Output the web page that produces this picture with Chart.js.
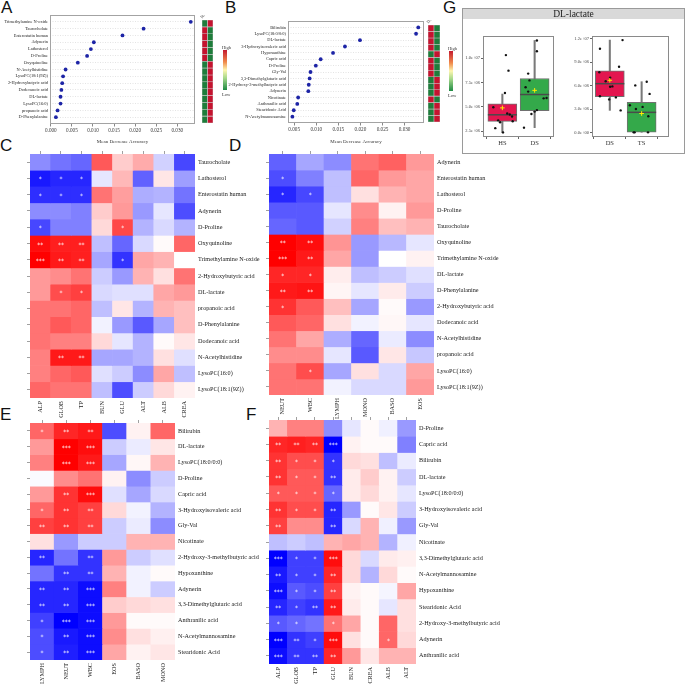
<!DOCTYPE html>
<html>
<head>
<meta charset="UTF-8" />
<title>Serum metabolites and clinical indices</title>
<script src="https://cdn.jsdelivr.net/npm/chart.js@4.4.1/dist/chart.umd.min.js"></script>
<style type="text/css">
	body { margin: 0; background: #fff; }
	#page { position: relative; width: 685px; height: 684px; overflow: hidden; background: #fff; }
	canvas { position: absolute; }
	.tag { position: absolute; font-family: "Liberation Sans", Arial, sans-serif; font-size: 17px; line-height: 17px; color: #111; }
	.scale { position: absolute; width: 4px; height: 40px; background: linear-gradient(to bottom, #c41a30, #f08a4b 30%, #fdf6b0 50%, #a6d88a 70%, #1f8a44); }
	.stxt { position: absolute; font-family: "Liberation Serif", serif; font-size: 4.5px; line-height: 5px; color: #333; }
	#gbox { position: absolute; left: 462px; top: 8px; width: 223px; height: 146px; box-sizing: border-box; border: 1px solid #9a9a9a; }
	#gstrip { position: absolute; left: 463px; top: 9px; width: 221px; height: 10px; background: #d9d9d9; font-family: "Liberation Serif", serif; font-size: 9.5px; line-height: 10px; text-align: center; color: #222; }
</style>
</head>
<body>
<div id="page">
	<div class="tag" style="left:1px; top:-1px;">A</div>
	<div class="tag" style="left:225px; top:-1px;">B</div>
	<div class="tag" style="left:443px; top:-1px;">G</div>
	<div class="tag" style="left:0px; top:137px;">C</div>
	<div class="tag" style="left:229px; top:137px;">D</div>
	<div class="tag" style="left:0px; top:406px;">E</div>
	<div class="tag" style="left:246px; top:406px;">F</div>

	<canvas id="dotA" width="200" height="146" style="left:0px; top:0px;"></canvas>
	<canvas id="stripA" width="18" height="126" style="left:199px; top:0px;"></canvas>
	<div class="stxt" style="left:222px; top:45px;">High</div>
	<div class="scale" style="left:223px; top:50px;"></div>
	<div class="stxt" style="left:222px; top:92px;">Low</div>

	<canvas id="dotB" width="200" height="146" style="left:228px; top:0px;"></canvas>
	<canvas id="stripB" width="20" height="126" style="left:425px; top:0px;"></canvas>
	<div class="stxt" style="left:448px; top:46px;">High</div>
	<div class="scale" style="left:449px; top:51px;"></div>
	<div class="stxt" style="left:448px; top:93px;">Low</div>

	<div id="gbox"></div>
	<div id="gstrip">DL-lactate</div>
	<canvas id="boxL" width="108" height="133" style="left:462px; top:20px;"></canvas>
	<canvas id="boxR" width="115" height="133" style="left:570px; top:20px;"></canvas>

	<canvas id="heatC" width="265" height="285" style="left:0px; top:140px;"></canvas>
	<canvas id="heatD" width="445" height="285" style="left:240px; top:140px;"></canvas>
	<canvas id="heatE" width="265" height="274" style="left:0px; top:410px;"></canvas>
	<canvas id="heatF" width="445" height="279" style="left:240px; top:405px;"></canvas>
</div>

<script>
// ---------- A: random forest, HS vs DS
const aNames = ['Trimethylamine N-oxide', 'Taurocholate', 'Enterostatin human', 'Adynerin', 'Lathosterol', 'D-Proline', 'Oxyquinoline', 'N-Acetylhistidine', 'LysoPC(18:1(9Z))', '2-Hydroxybutyric acid', 'Dodecanoic acid', 'DL-lactate', 'LysoPC(16:0)', 'propanoic acid', 'D-Phenylalanine'];
const aMDA = [0.0332, 0.0220, 0.0170, 0.0102, 0.0095, 0.0086, 0.0064, 0.0035, 0.0029, 0.0027, 0.0025, 0.0023, 0.0023, 0.0016, 0.0012];
const aTicks = [0, 0.005, 0.010, 0.015, 0.020, 0.025, 0.030];
const aGroups = ['HS', 'DS'];
const aHS = [0, 1, 1, 1, 1, 1, 0, 0, 0, 0, 0, 0, 0, 0, 0]; // 1 = high, 0 = low
const aDS = [1, 0, 0, 0, 0, 0, 1, 1, 1, 1, 1, 1, 1, 1, 1];

// ---------- B: random forest, DS vs TS
const bNames = ['Bilirubin', 'LysoPC(18:0/0:0)', 'DL-lactate', '3-Hydroxyisovaleric acid', 'Hypoxanthine', 'Capric acid', 'D-Proline', 'Gly-Val', '3,3-Dimethylglutaric acid', '2-Hydroxy-3-methylbutyric acid', 'Adynerin', 'Nicotinate', 'Anthranilic acid', 'Stearidonic Acid', 'N-Acetylmannosamine'];
const bMDA = [0.0331, 0.0326, 0.0199, 0.0165, 0.0138, 0.0110, 0.0099, 0.0087, 0.0085, 0.0083, 0.0082, 0.0059, 0.0057, 0.0049, 0.0046];
const bTicks = [0.005, 0.010, 0.015, 0.020, 0.025, 0.030];
const bGroups = ['DS', 'TS'];
const bDS = [1, 1, 1, 1, 0, 1, 1, 1, 0, 0, 0, 1, 0, 0, 0];
const bTS = [0, 0, 0, 0, 1, 0, 0, 0, 1, 1, 1, 0, 1, 1, 1];

// ---------- C: HS/DS metabolites vs biochemistry
const cRows = ['Taurocholate', 'Lathosterol', 'Enterostatin human', 'Adynerin', 'D-Proline', 'Oxyquinoline', 'Trimethylamine N-oxide', '2-Hydroxybutyric acid', 'DL-lactate', 'propanoic acid', 'D-Phenylalanine', 'Dodecanoic acid', 'N-Acetylhistidine', 'LysoPC(16:0)', 'LysoPC(18:1(9Z))'];
const cCols = ['ALP', 'GLOB', 'TP', 'BUN', 'GLU', 'ALT', 'ALB', 'CREA'];
const cCorr = [
	[-0.45, -0.55, -0.6, 0.65, 0.2, 0.33, -0.18, -0.72],
	[-0.9, -0.85, -0.85, -0.1, 0.28, -0.62, 0.1, -0.38],
	[-0.82, -0.82, -0.82, 0.55, 0.38, -0.32, -0.3, -0.55],
	[-0.45, -0.45, -0.5, 0.2, 0.4, -0.4, -0.1, -0.7],
	[-0.72, -0.5, -0.5, 0.15, 0.72, -0.3, -0.15, -0.3],
	[0.95, 0.88, 0.88, -0.25, -0.6, -0.15, 0.02, 0.6],
	[1.0, 0.9, 0.88, -0.35, -0.8, 0.35, 0.3, 0.0],
	[0.4, 0.45, 0.55, -0.2, -0.4, 0.3, 0.12, 0.55],
	[0.4, 0.7, 0.75, -0.15, -0.12, -0.12, 0.35, 0.4],
	[0.55, 0.55, 0.6, -0.25, 0.1, -0.3, 0.3, 0.25],
	[0.55, 0.65, 0.6, -0.05, -0.4, -0.65, -0.35, 0.25],
	[0.55, 0.5, 0.5, 0.15, -0.1, -0.3, 0.02, 0.1],
	[0.5, 0.9, 0.9, -0.35, -0.35, -0.3, 0.12, -0.12],
	[0.5, 0.6, 0.65, -0.12, -0.2, -0.45, 0.35, -0.25],
	[0.6, 0.55, 0.55, -0.25, -0.7, -0.2, 0.15, 0.05]
];
const cSig = [
	[0, 0, 0, 0, 0, 0, 0, 0],
	[1, 1, 1, 0, 0, 0, 0, 0],
	[1, 1, 1, 0, 0, 0, 0, 0],
	[0, 0, 0, 0, 0, 0, 0, 0],
	[1, 0, 0, 0, 1, 0, 0, 0],
	[2, 2, 2, 0, 0, 0, 0, 0],
	[3, 2, 2, 0, 1, 0, 0, 0],
	[0, 0, 0, 0, 0, 0, 0, 0],
	[0, 1, 1, 0, 0, 0, 0, 0],
	[0, 0, 0, 0, 0, 0, 0, 0],
	[0, 0, 0, 0, 0, 0, 0, 0],
	[0, 0, 0, 0, 0, 0, 0, 0],
	[0, 2, 2, 0, 0, 0, 0, 0],
	[0, 0, 0, 0, 0, 0, 0, 0],
	[0, 0, 0, 0, 0, 0, 0, 0]
];

// ---------- D: HS/DS metabolites vs blood counts
const dRows = ['Adynerin', 'Enterostatin human', 'Lathosterol', 'D-Proline', 'Taurocholate', 'Oxyquinoline', 'Trimethylamine N-oxide', 'DL-lactate', 'D-Phenylalanine', '2-Hydroxybutyric acid', 'Dodecanoic acid', 'N-Acetylhistidine', 'propanoic acid', 'LysoPC(16:0)', 'LysoPC(18:1(9Z))'];
const dCols = ['NEUT', 'WBC', 'LYMPH', 'MONO', 'BASO', 'EOS'];
const dCorr = [
	[-0.62, -0.35, -0.45, 0.55, 0.62, 0.4],
	[-0.7, -0.5, -0.25, 0.6, 0.4, 0.35],
	[-0.85, -0.72, -0.25, 0.12, 0.3, 0.35],
	[-0.65, -0.65, -0.1, 0.45, 0.05, 0.4],
	[-0.6, -0.65, -0.18, 0.5, 0.25, 0.3],
	[1.0, 0.95, 0.42, -0.4, -0.28, -0.1],
	[1.0, 0.9, 0.35, -0.4, 0.0, 0.05],
	[0.85, 0.85, 0.07, -0.25, -0.2, -0.12],
	[0.9, 0.92, 0.04, -0.1, 0.08, -0.2],
	[0.8, 0.65, 0.25, -0.35, 0.02, -0.4],
	[0.65, 0.6, 0.12, -0.05, 0.03, -0.1],
	[0.55, 0.35, -0.32, -0.6, -0.08, -0.45],
	[0.45, 0.45, -0.1, -0.65, 0.1, -0.22],
	[0.55, 0.7, -0.35, 0.12, -0.15, 0.35],
	[0.55, 0.55, -0.05, -0.15, -0.15, 0.4]
];
const dSig = [
	[0, 0, 0, 0, 0, 0],
	[1, 0, 0, 0, 0, 0],
	[1, 1, 0, 0, 0, 0],
	[0, 0, 0, 0, 0, 0],
	[0, 0, 0, 0, 0, 0],
	[2, 2, 0, 0, 0, 0],
	[3, 2, 0, 0, 0, 0],
	[1, 1, 0, 0, 0, 0],
	[2, 2, 0, 0, 0, 0],
	[1, 0, 0, 0, 0, 0],
	[0, 0, 0, 0, 0, 0],
	[0, 0, 0, 0, 0, 0],
	[0, 0, 0, 0, 0, 0],
	[0, 1, 0, 0, 0, 0],
	[0, 0, 0, 0, 0, 0]
];

// ---------- E: DS/TS metabolites vs blood counts
const eRows = ['Bilirubin', 'DL-lactate', 'LysoPC(18:0/0:0)', 'D-Proline', 'Capric acid', '3-Hydroxyisovaleric acid', 'Gly-Val', 'Nicotinate', '2-Hydroxy-3-methylbutyric acid', 'Hypoxanthine', 'Adynerin', '3,3-Dimethylglutaric acid', 'Anthranilic acid', 'N-Acetylmannosamine', 'Stearidonic Acid'];
const eCols = ['LYMPH', 'NEUT', 'WBC', 'EOS', 'BASO', 'MONO'];
const eCorr = [
	[0.6, 0.85, 0.9, -0.7, 0.05, 0.6],
	[0.4, 1.0, 0.95, -0.2, -0.08, 0.1],
	[0.5, 1.0, 0.9, -0.35, 0.03, 0.3],
	[-0.02, 0.45, 0.55, 0.05, -0.45, -0.2],
	[0.4, 0.8, 0.95, -0.12, -0.35, -0.15],
	[0.6, 0.8, 0.75, 0.15, -0.05, -0.3],
	[0.75, 0.8, 0.75, -0.2, -0.08, -0.45],
	[0.12, -0.4, -0.2, -0.2, 0.3, 0.3],
	[-0.85, -0.55, -0.8, 0.4, -0.2, -0.12],
	[-0.55, -0.8, -0.8, 0.3, -0.05, 0.02],
	[-0.85, -0.85, -0.95, 0.5, -0.05, -0.2],
	[-0.85, -0.85, -0.95, 0.2, 0.15, 0.12],
	[-0.75, -1.0, -0.95, 0.4, 0.02, 0.02],
	[-0.7, -0.9, -0.95, 0.45, 0.12, 0.06],
	[-0.7, -0.88, -0.95, 0.35, 0.05, 0.1]
];
const eSig = [
	[1, 2, 2, 0, 0, 0],
	[0, 3, 3, 0, 0, 0],
	[0, 3, 3, 0, 0, 0],
	[0, 0, 0, 0, 0, 0],
	[0, 2, 3, 0, 0, 0],
	[1, 2, 2, 0, 0, 0],
	[2, 2, 2, 0, 0, 0],
	[0, 0, 0, 0, 0, 0],
	[2, 0, 2, 0, 0, 0],
	[0, 2, 2, 0, 0, 0],
	[2, 2, 3, 0, 0, 0],
	[2, 2, 3, 0, 0, 0],
	[1, 3, 3, 0, 0, 0],
	[1, 2, 3, 0, 0, 0],
	[1, 2, 3, 0, 0, 0]
];

// ---------- F: DS/TS metabolites vs biochemistry
const fRows = ['D-Proline', 'Capric acid', 'Bilirubin', 'DL-lactate', 'LysoPC(18:0/0:0)', '3-Hydroxyisovaleric acid', 'Gly-Val', 'Nicotinate', '3,3-Dimethylglutaric acid', 'N-Acetylmannosamine', 'Hypoxanthine', 'Stearidonic Acid', '2-Hydroxy-3-methylbutyric acid', 'Adynerin', 'Anthranilic acid'];
const fCols = ['ALP', 'GLOB', 'TP', 'GLU', 'BUN', 'CREA', 'ALB', 'ALT'];
const fCorr = [
	[0.3, 0.5, 0.5, -0.45, -0.1, 0.02, -0.06, -0.4],
	[0.85, 0.88, 0.85, -1.0, 0.05, 0.02, 0.02, -0.5],
	[0.8, 0.7, 0.7, -0.8, 0.15, 0.12, -0.25, -0.08],
	[0.8, 0.65, 0.65, -0.8, 0.08, 0.2, 0.05, -0.2],
	[0.65, 0.65, 0.65, -0.6, 0.08, 0.15, 0.05, -0.1],
	[0.8, 0.7, 0.7, -0.85, -0.4, 0.02, 0.1, -0.2],
	[0.75, 0.45, 0.45, -0.85, -0.15, 0.3, -0.06, -0.4],
	[-0.25, -0.2, -0.25, 0.3, 0.35, 0.3, -0.3, -0.06],
	[-1.0, -0.75, -0.75, 0.95, 0.15, -0.15, 0.08, 0.06],
	[-0.9, -0.75, -0.75, 0.85, 0.15, -0.3, 0.15, 0.02],
	[-0.95, -0.65, -0.7, 0.75, 0.05, 0.02, -0.04, 0.35],
	[-0.85, -0.75, -0.8, 0.9, 0.08, 0.02, -0.1, 0.12],
	[-0.65, -0.6, -0.55, 0.55, 0.35, 0.02, 0.6, 0.12],
	[-1.0, -0.8, -0.75, 0.95, 0.12, 0.02, 0.6, 0.15],
	[-0.95, -0.8, -0.8, 0.85, 0.4, 0.1, 0.3, 0.3]
];
const fSig = [
	[0, 0, 0, 0, 0, 0, 0, 0],
	[2, 2, 2, 3, 0, 0, 0, 0],
	[2, 1, 1, 1, 0, 0, 0, 0],
	[2, 1, 1, 2, 0, 0, 0, 0],
	[1, 1, 1, 1, 0, 0, 0, 0],
	[2, 1, 1, 2, 0, 0, 0, 0],
	[2, 0, 0, 2, 0, 0, 0, 0],
	[0, 0, 0, 0, 0, 0, 0, 0],
	[3, 1, 1, 3, 0, 0, 0, 0],
	[2, 1, 1, 2, 0, 0, 0, 0],
	[3, 1, 1, 2, 0, 0, 0, 0],
	[2, 1, 2, 2, 0, 0, 0, 0],
	[1, 1, 0, 1, 0, 0, 0, 0],
	[3, 2, 1, 3, 0, 0, 1, 0],
	[3, 2, 2, 2, 0, 0, 0, 0]
];

// ---------- G: DL-lactate levels
const gLeftGroups = ['HS', 'DS'];
const gRightGroups = ['DS', 'TS'];
const hsVals = [4.94e6, 10.3e6, 8.7e6, 6.4e6, 3.6e6, 3.4e6, 4.3e6, 4.2e6, 4.0e6, 3.5e6, 2.8e6, 2.36e6];
const hsJit = [-0.28, 0.11, 0.19, 0.08, -0.13, -0.07, 0.15, 0.23, 0.30, 0.32, -0.22, 0.02];
const dsVals = [11.8e6, 10.7e6, 8.4e6, 7.7e6, 7.0e6, 6.55e6, 5.86e6, 5.9e6, 4.5e6, 4.25e6, 4.65e6, 2.85e6];
const dsJitL = [0.07, 0.07, -0.20, -0.16, -0.28, -0.20, 0.28, 0.37, 0.0, -0.10, 0.07, -0.33];
const dsJitR = [0.40, -0.31, 0.29, -0.33, 0.01, -0.13, 0.01, 0.08, 0.19, -0.02, -0.31, 0.34];
const tsVals = [6.5e6, 6.03e6, 4.95e6, 3.5e6, 3.03e6, 3.29e6, 2.1e6, 0.05e6, 0.05e6, 0.05e6];
const tsJit = [0.16, -0.20, 0.25, -0.37, -0.18, 0.03, 0.21, -0.25, -0.22, 0.20];
// [lower whisker, Q1, median, Q3, upper whisker, mean]
const hsBox = [2.36e6, 3.5e6, 4.17e6, 5.29e6, 6.3e6, 4.88e6];
const dsBox = [2.85e6, 4.6e6, 6.25e6, 7.9e6, 11.8e6, 6.68e6];
const tsBox = [0.0, 0.07e6, 2.6e6, 3.86e6, 6.5e6, 2.45e6];
const gLeftTicks = [2.5e6, 5.0e6, 7.5e6, 1.0e7];
const gRightTicks = [0, 3.0e6, 6.0e6, 9.0e6, 1.2e7];

Chart.defaults.font.family = '"Liberation Serif", "Times New Roman", serif';
Chart.defaults.color = '#222';
Chart.defaults.animation = false;
Chart.defaults.responsive = false;
Chart.defaults.plugins.legend.display = false;
Chart.defaults.plugins.tooltip.enabled = false;

const HIGH = '#c5132f', LOW = '#1e7d3b';

function corrColor(v) {
	const w = Math.round(255 * (1 - Math.min(1, Math.abs(v))));
	return v >= 0 ? 'rgb(255,' + w + ',' + w + ')' : 'rgb(' + w + ',' + w + ',255)';
}

function sci(v) {
	// 2.5e+06 style labels
	const s = v.toExponential(1).split('e');
	const p = parseInt(s[1], 10);
	return s[0] + 'e' + (p < 0 ? '-' : '+') + String(Math.abs(p)).padStart(2, '0');
}

const framePlugin = {
	id: 'frame',
	afterDraw(chart, args, opts) {
		const a = chart.chartArea, c = chart.ctx;
		c.save();
		c.strokeStyle = opts.color || '#999';
		c.lineWidth = 1;
		c.strokeRect(Math.round(a.left) + 0.5, Math.round(a.top) + 0.5, Math.round(a.width) - 1, Math.round(a.height) - 1);
		c.restore();
	}
};

const starPlugin = {
	id: 'stars',
	afterDatasetsDraw(chart) {
		const c = chart.ctx;
		c.save();
		c.fillStyle = '#fff';
		c.font = '6px "DejaVu Sans"';
		c.textAlign = 'center';
		c.textBaseline = 'middle';
		chart.data.datasets.forEach((ds, i) => {
			chart.getDatasetMeta(i).data.forEach((bar, j) => {
				const k = ds.sig[j];
				if (k) c.fillText('*'.repeat(k), bar.x, (bar.y + bar.base) / 2 + 1.5);
			});
		});
		c.restore();
	}
};

function dotPlot(id, names, mda, xTicks, xMin, xMax, lay) {
	const n = names.length;
	return new Chart(document.getElementById(id), {
		type: 'scatter',
		data: { datasets: [{ data: mda.map((v, i) => ({ x: v, y: n - i })), pointRadius: 1.9, backgroundColor: '#1d24a6', borderWidth: 0 }] },
		options: {
			layout: { padding: { left: 0, top: lay.top, right: lay.right, bottom: 0 } },
			plugins: { frame: { color: '#a3a3a3' } },
			scales: {
				x: {
					type: 'linear', min: xMin, max: xMax,
					afterBuildTicks: s => { s.ticks = xTicks.map(v => ({ value: v })); },
					grid: { drawOnChartArea: false, tickLength: 2.5, color: '#888' },
					border: { display: false },
					ticks: { padding: 1, font: { size: 5.2 }, color: '#333', callback: v => v.toFixed(3) },
					title: { display: true, text: 'Mean Decrease Accuracy', font: { size: 5 }, color: '#333', padding: { top: 0, bottom: 1 } },
					afterFit: s => { s.height = lay.bottom; }
				},
				y: {
					type: 'linear', min: 0, max: n + 1,
					afterBuildTicks: s => { s.ticks = names.map((r, k) => ({ value: k + 1 })); },
					grid: { drawTicks: false, color: '#d2d2d2', lineWidth: 0.6 },
					border: { display: false, dash: [1, 1.5] },
					ticks: { autoSkip: false, padding: 2, font: { size: 4.4 }, color: '#222', callback: v => names[n - v] },
					afterFit: s => { s.width = lay.left; }
				}
			}
		},
		plugins: [framePlugin]
	});
}

function stripChart(id, names, groups, levels, lay) {
	const n = names.length;
	const datasets = names.map((r, i) => ({
		label: r,
		data: groups.map(() => [n - 1 - i, n - i]),
		backgroundColor: levels.map(col => col[i] ? HIGH : LOW),
		borderColor: '#c9c9c9',
		borderWidth: 0.6,
		borderSkipped: false,
		grouped: false,
		barPercentage: 1,
		categoryPercentage: 1
	}));
	return new Chart(document.getElementById(id), {
		type: 'bar',
		data: { labels: groups, datasets: datasets },
		options: {
			layout: { padding: lay },
			scales: {
				x: {
					position: 'top',
					grid: { display: false, drawTicks: false }, border: { display: false },
					ticks: { padding: 0.5, font: { size: 4 }, color: '#333' },
					afterFit: s => { s.height = 5; }
				},
				y: { type: 'linear', display: false, min: 0, max: n }
			}
		}
	});
}

function heatmap(id, rows, cols, corr, sig, lay) {
	const n = rows.length;
	const rowTicks = s => { s.ticks = rows.map((r, k) => ({ value: k + 0.5 })); };
	const datasets = rows.map((r, i) => ({
		label: r,
		xAxisID: 'x',
		yAxisID: 'y',
		data: cols.map(() => [n - 1 - i, n - i]),
		backgroundColor: corr[i].map(corrColor),
		sig: sig[i],
		grouped: false,
		barPercentage: 1,
		categoryPercentage: 1,
		borderWidth: 0
	}));
	return new Chart(document.getElementById(id), {
		type: 'bar',
		data: { labels: cols, datasets: datasets },
		options: {
			layout: { padding: { left: lay.left, top: lay.top, right: 0, bottom: 0 } },
			scales: {
				x: {
					type: 'category', position: 'bottom',
					grid: { display: false, drawTicks: false }, border: { display: false },
					ticks: { autoSkip: false, minRotation: 90, maxRotation: 90, padding: 3, font: { size: 6.2 }, color: '#222' },
					afterFit: s => { s.height = lay.bottom; }
				},
				xTop: {
					type: 'category', position: 'top', display: true, offset: true,
					grid: { offset: false, drawOnChartArea: false, tickLength: 3, color: '#a0a0a0' },
					border: { display: false }, ticks: { display: false },
					afterFit: s => { s.height = 4; }
				},
				y: {
					type: 'linear', position: 'right', min: 0, max: n,
					grid: { display: false, drawTicks: false }, border: { display: false },
					afterBuildTicks: rowTicks,
					ticks: { autoSkip: false, padding: 3, font: { size: 6.2 }, color: '#222', callback: v => rows[n - 1 - Math.floor(v)] },
					afterFit: s => { s.width = lay.right; }
				},
				yLeft: {
					type: 'linear', position: 'left', display: true, min: 0, max: n,
					grid: { drawOnChartArea: false, tickLength: 3, color: '#a0a0a0' }, border: { display: false },
					afterBuildTicks: rowTicks, ticks: { display: false },
					afterFit: s => { s.width = 4; }
				}
			}
		},
		plugins: [starPlugin]
	});
}

function boxChart(id, groups, boxes, pts, colors, yMin, yMax, yTicks, xMin, xMax, lay) {
	const points = [];
	pts.forEach((p, k) => p.vals.forEach((v, j) => points.push({ x: k + 1 + p.jit[j], y: v })));
	return new Chart(document.getElementById(id), {
		type: 'bar',
		data: {
			datasets: [
				{ type: 'scatter', order: 0, data: boxes.map((b, k) => ({ x: k + 1, y: b[5] })), pointStyle: 'cross', pointRadius: 2.3, borderColor: '#ffee00', borderWidth: 1 },
				{ type: 'scatter', order: 1, data: points, pointRadius: 1.2, backgroundColor: '#111', borderWidth: 0 },
				{ type: 'scatter', order: 2, data: boxes.map((b, k) => ({ x: k + 1, y: b[2] })), pointStyle: 'line', pointRadius: 14.5, borderColor: '#4a4a4a', borderWidth: 1.5 },
				{ type: 'bar', order: 3, grouped: false, data: boxes.map((b, k) => ({ x: k + 1, y: [b[1], b[3]] })), barThickness: 29, backgroundColor: colors, borderColor: '#707070', borderWidth: 1, borderSkipped: false },
				{ type: 'bar', order: 4, grouped: false, data: boxes.map((b, k) => ({ x: k + 1, y: [b[0], b[4]] })), barThickness: 1.4, backgroundColor: '#7a7a7a', borderWidth: 0 }
			]
		},
		options: {
			layout: { padding: { left: 0, top: lay.top, right: lay.right, bottom: 0 } },
			plugins: { frame: { color: '#8a8a8a' } },
			scales: {
				x: {
					type: 'linear', offset: false, min: xMin, max: xMax,
					afterBuildTicks: s => { s.ticks = groups.map((g, k) => ({ value: k + 1 })); },
					grid: { drawOnChartArea: false, tickLength: 2, color: '#666' }, border: { display: false },
					ticks: { padding: 0.5, font: { size: 6.5 }, color: '#333', callback: v => groups[v - 1] },
					afterFit: s => { s.height = lay.bottom; }
				},
				y: {
					type: 'linear', min: yMin, max: yMax,
					afterBuildTicks: s => { s.ticks = yTicks.map(v => ({ value: v })); },
					grid: { drawOnChartArea: false, tickLength: 2, color: '#666' }, border: { display: false },
					ticks: { padding: 1, font: { size: 4.5 }, color: '#444', callback: v => sci(v) },
					afterFit: s => { s.width = lay.left; }
				}
			}
		},
		plugins: [framePlugin]
	});
}

dotPlot('dotA', aNames, aMDA, aTicks, -0.0002, 0.0342, { left: 50, top: 15, right: 5, bottom: 22 });
stripChart('stripA', aNames, aGroups, [aHS, aDS], { left: 3, right: 4, top: 15, bottom: 3 });
dotPlot('dotB', bNames, bMDA, bTicks, 0.0036, 0.0344, { left: 60, top: 21, right: 4, bottom: 23 });
stripChart('stripB', bNames, bGroups, [bDS, bTS], { left: 3, right: 5, top: 20, bottom: 4 });

heatmap('heatC', cRows, cCols, cCorr, cSig, { left: 26, top: 10, right: 70, bottom: 27 });
heatmap('heatD', dRows, dCols, dCorr, dSig, { left: 25, top: 10, right: 251, bottom: 30 });
heatmap('heatE', eRows, eCols, eCorr, eSig, { left: 26, top: 9, right: 90, bottom: 24 });
heatmap('heatF', fRows, fCols, fCorr, fSig, { left: 25, top: 11, right: 269, bottom: 20 });

boxChart('boxL', gLeftGroups, [hsBox, dsBox], [{ vals: hsVals, jit: hsJit }, { vals: dsVals, jit: dsJitL }],
	['#e3164f', '#34a94a'], 1.89e6, 1.226e7, gLeftTicks, 0.4, 2.6, { left: 21, top: 6, right: 2, bottom: 8 });
boxChart('boxR', gRightGroups, [dsBox, tsBox], [{ vals: dsVals, jit: dsJitR }, { vals: tsVals, jit: tsJit }],
	['#e3164f', '#34a94a'], -0.54e6, 1.232e7, gRightTicks, 0.44, 2.86, { left: 22, top: 6, right: 1, bottom: 8 });
</script>
</body>
</html>
